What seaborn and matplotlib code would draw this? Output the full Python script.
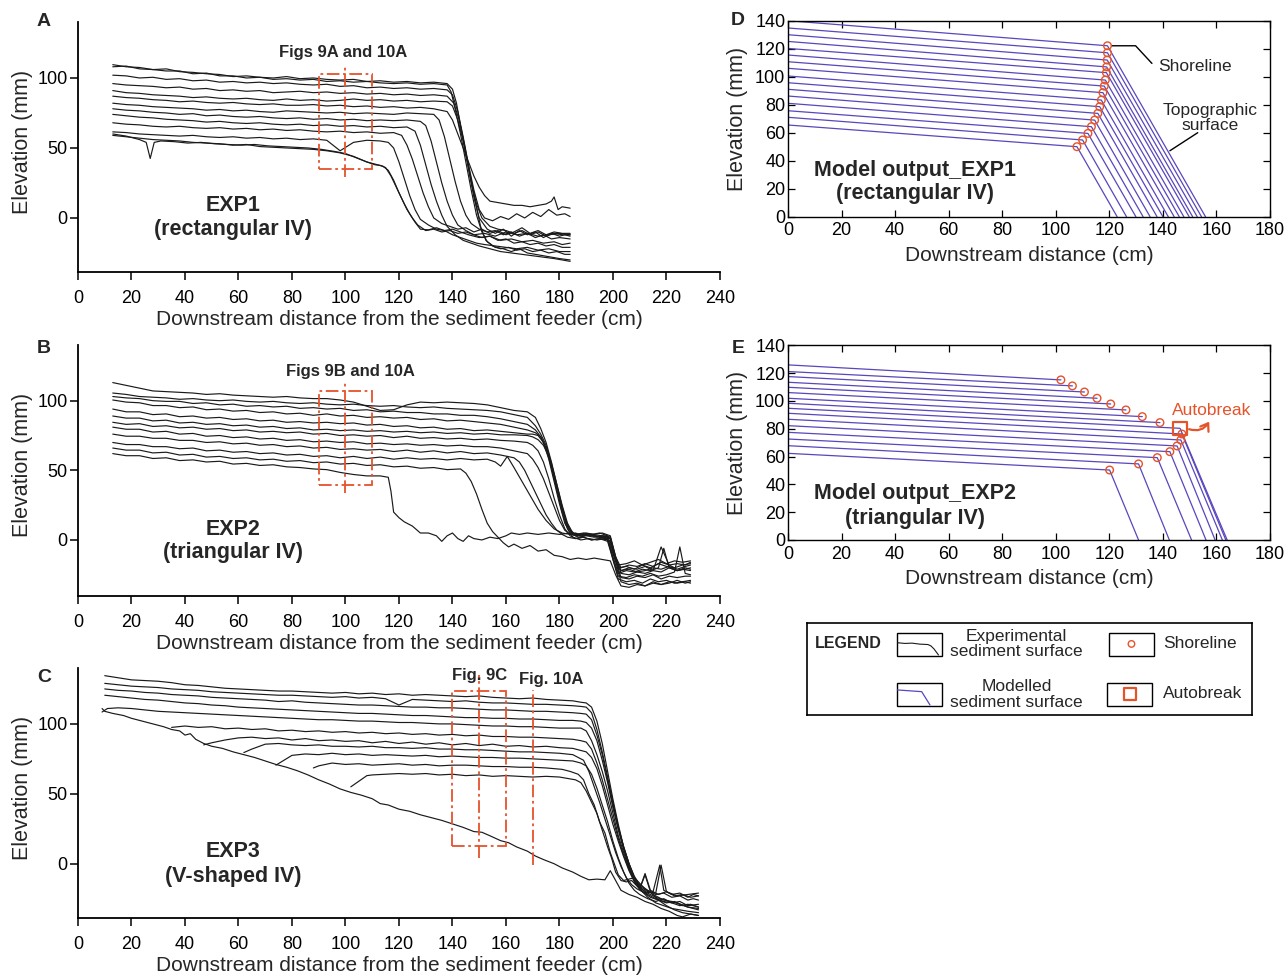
import numpy as np
import pandas as pd
import matplotlib
matplotlib.use("Agg")
import matplotlib.pyplot as plt
import seaborn as sns
from matplotlib.patches import Rectangle, FancyArrowPatch

# ------------------------------------------------------------------ DATA
# ---- Panel A (EXP1, rectangular IV): plateau values on grid gA + tail
gA = [13, 18, 23, 28, 33, 38, 43, 48, 53, 58, 63, 68, 73, 78, 83, 88, 93, 98, 103, 108, 113, 118, 123, 128, 133, 138]

a1_py = [109.5, 108, 107.5, 106, 106.5, 104.5, 104, 103, 102.5, 101, 101.5, 100.5, 100, 101, 99.5, 100, 99, 98.5, 99, 97.5, 98, 97, 97.5, 96.5, 97, 96]
a1_tx = [140, 141.5, 143, 145, 147, 149, 151, 154, 157, 160, 163, 166, 169, 172, 175, 178, 181, 184]
a1_ty = [92, 82, 66, 46, 26, 10, 0, -6, -8, -9, -11, -9, -12, -10, -13, -11, -12, -12]

a2_py = [108, 108.5, 106.5, 106, 105, 105, 103, 103.5, 101.5, 101.5, 100, 100.5, 99, 99.5, 98.5, 99, 97.5, 98, 97, 97.5, 96.5, 96, 96.5, 95.5, 96, 95]
a2_tx = [139.5, 141, 143, 145, 147, 149, 151, 153, 156, 159, 162, 165, 168, 171, 174, 177, 180, 184]
a2_ty = [90, 78, 60, 40, 20, 2, -10, -17, -21, -22, -24, -22, -25, -26, -27, -28, -29, -30]

a3_py = [102, 101.5, 100, 100.5, 99, 99.5, 98, 98.5, 97, 97.5, 96.5, 97, 96, 96.5, 95.5, 95, 95.5, 94, 94.5, 93, 93.5, 92.5, 93, 92, 92.5, 91.5]
a3_tx = [140, 142, 144, 146, 148, 150, 152, 155, 158, 161, 164, 167, 170, 173, 176, 179, 182, 184]
a3_ty = [88, 76, 58, 38, 20, 6, 0, -2, 1, -1, 3, 0, 4, 1, 6, 2, 3, 1]

a4_py = [96, 95, 94.5, 94, 93, 93.5, 92, 92.5, 91, 91.5, 90.5, 91, 89.5, 90, 90.5, 89.5, 90, 89, 89.5, 88.5, 89, 88, 88.5, 87.5, 88, 87]
a4_tx = [140.5, 142.5, 144.5, 146.5, 148.5, 150.5, 152.5, 155, 158, 161, 164, 167, 170, 173, 176, 179, 182, 184]
a4_ty = [82, 70, 52, 32, 12, -6, -16, -20, -22, -21, -23, -22, -24, -23, -25, -24, -26, -26]

a5_py = [91, 89.5, 89, 88, 87.5, 87, 86, 86.5, 85.5, 85, 85.5, 84.5, 84, 85, 84, 84.5, 83.5, 84, 85, 84, 84.5, 83.5, 84, 83, 83.5, 83]
a5_tx = [140, 142, 144, 146, 148, 150, 153, 156, 159, 162, 165, 168, 171, 174, 177, 180, 182, 184]
a5_ty = [80, 70, 55, 35, 15, 0, -8, -11, -8, -13, -9, -12, -10, -14, -11, -13, -12, -13]

a6_py = [87, 86, 85.5, 84.5, 84, 83, 83.5, 82.5, 82, 82.5, 81.5, 81, 81.5, 80.5, 80.5, 81, 80, 80.5, 79.5, 80, 79, 79.5, 78.5, 79, 78, 76]
a6_tx = [140, 142, 144, 146, 148, 150, 152, 154, 157, 160, 163, 166, 169, 172, 175, 177, 178, 179.5, 181, 184]
a6_ty = [70, 60, 50, 40, 30, 22, 16, 12, 11, 10, 9, 9, 8, 9, 10, 12, 15, 6, 8, 7]

a7_py = [82, 81, 80.5, 79.5, 79, 78.5, 78, 77, 77.5, 76.5, 77, 76, 75.5, 76.5, 76, 75.5, 75, 75.5, 74.5, 75, 74.5, 74, 75, 74.5, 74]
a7_tx = [135, 137, 139, 141, 143, 145, 147, 150, 153, 156, 159, 162, 165, 168, 171, 174, 177, 180, 184]
a7_ty = [70, 58, 42, 26, 12, 2, -4, -8, -10, -9, -12, -10, -13, -11, -14, -12, -15, -14, -15]

a8_py = [78, 77, 76.5, 75.5, 75, 74, 74.5, 73, 73.5, 72.5, 72, 72.5, 71.5, 71, 71.5, 70.5, 71, 70, 70.5, 69.5, 70, 69.5, 70, 69]
a8_tx = [130, 132, 134, 136, 138, 140, 142, 145, 148, 151, 154, 157, 160, 163, 166, 169, 172, 175, 178, 181, 184]
a8_ty = [66, 55, 40, 25, 12, 2, -5, -9, -12, -14, -13, -16, -15, -18, -17, -19, -18, -20, -19, -21, -21]

a9_py = [74, 73, 72, 71.5, 70.5, 70, 69.5, 68.5, 69, 68, 67.5, 68, 67, 66.5, 67, 66, 66.5, 65.5, 66, 65, 65.5, 64.5, 65]
a9_tx = [126, 128, 130, 132, 134, 136, 138, 141, 144, 147, 150, 154, 158, 162, 166, 170, 174, 178, 181, 184]
a9_ty = [62, 52, 38, 24, 12, 2, -6, -12, -16, -18, -20, -22, -24, -25, -26, -27, -28, -29, -30, -31]

a10_py = [68, 67, 66.5, 65.5, 65, 65.5, 64.5, 64, 64.5, 63.5, 64, 63, 63.5, 62.5, 63, 62, 61.5, 62, 61, 61.5, 60.5, 61]
a10_tx = [121, 123, 125, 127, 129, 131, 133, 136, 139, 142, 145, 148, 151, 154, 157, 160, 163, 166, 169, 172, 175, 178, 181, 184]
a10_ty = [59, 52, 42, 30, 18, 8, 0, -4, -6, -8, -7, -10, -8, -11, -9, -12, -10, -7, -11, -9, -12, -10, -11, -11]

a11_py = [61.5, 61, 60, 59.5, 59, 58.5, 59, 58, 57.5, 58, 57, 57.5, 56.5, 57, 56, 56.5, 55.5, 48, 54, 55.5, 55]
a11_tx = [116, 118, 120, 122, 124, 126, 128, 131, 134, 137, 140, 143, 146, 149, 152, 156, 160, 164, 168, 172, 176, 180, 184]
a11_ty = [54, 50, 40, 28, 16, 6, -1, -5, -8, -9, -12, -14, -16, -18, -19, -20, -21, -22, -21, -23, -22, -24, -24]

a12_x = [13, 18, 23, 25.5, 27, 28.5, 31, 36, 41, 46, 51, 56, 61, 66, 71, 76, 81, 86, 91, 96, 100, 104, 108, 112,
         114, 116, 118, 120, 122, 124, 126, 128, 131, 134, 137, 140, 143, 146, 150, 154, 158, 162, 166, 170, 174, 178, 181, 184]
a12_y = [60, 58.5, 56, 54, 42.5, 54, 55, 54.5, 53.5, 54, 53, 52.5, 52, 52.5, 51.5, 51, 50.5, 50, 49, 47.5, 46, 43, 40, 38,
         37, 34, 27, 18, 10, 3, -3, -8, -8.5, -7, -9, -8, -10, -12, -14, -13, -16, -15, -17, -16, -18, -17, -19, -18]

a13_x = [13, 18, 23, 28, 33, 38, 43, 48, 53, 58, 63, 68, 73, 78, 83, 88, 93, 98, 103, 108, 111, 113, 115, 117, 119,
         121, 123, 125, 127, 130, 133, 136, 139, 142, 145, 148, 152, 156, 160, 164, 168, 172, 176, 180, 184]
a13_y = [59, 58, 57, 56, 55.5, 55, 54, 53.5, 53, 52, 52.5, 51, 50.5, 50, 49.5, 49, 48, 46.5, 44, 40, 38, 37.5, 36, 30, 22,
         14, 6, 0, -5, -9, -8, -10, -9, -11, -10, -12, -11, -13, -10, -12, -11, -13, -12, -11, -12]

# ---- Panel B (EXP2, triangular IV)
gB = [13, 18, 23, 28, 33, 38, 43, 48, 53, 58, 63, 68, 73, 78, 83, 88, 93, 98, 103, 108, 113, 118, 123, 128, 133, 138, 143, 148, 153, 158, 163, 168]
tB1 = [171, 173, 175, 177, 179, 181, 183, 185, 187, 190, 193, 196, 199, 201, 203, 206, 209, 212, 215, 218, 221, 224, 227, 229]
tB2 = [171, 173, 175, 177, 179, 181, 183, 185, 188, 191, 194, 197, 199, 201, 203, 206, 209, 212, 215, 218, 221, 224, 227, 229]
tB3 = [170, 172, 174, 176, 178, 180, 182, 184, 186, 189, 192, 195, 198, 200, 202, 205, 208, 211, 214, 217, 220, 223, 226, 229]

b1_py = [113, 111, 109, 107, 106.5, 106, 105.5, 104.5, 105, 104, 103.5, 103, 102.5, 103, 102, 101.5, 101.5, 100.5, 99, 96, 93, 93.5, 97, 99, 98.5, 99, 98.5, 98, 97, 95, 93, 92]
b1_ty = [88, 80, 70, 56, 40, 25, 12, 5, 4, 5, 4, 5, 3, -12, -24, -25, -23, -24, -22, -23, -20, -22, -21, -20]
b2_py = [105.5, 104.5, 103, 102.5, 102, 101, 101.5, 100.5, 100, 100.5, 99.5, 99, 99.5, 98.5, 98, 98.5, 97.5, 97, 97.5, 96.5, 96, 96.5, 95.5, 95, 95.5, 94.5, 94, 93.5, 93, 92, 90, 88]
b2_ty = [82, 76, 68, 55, 40, 24, 10, 4, 2, 3, 2, 3, 1, -14, -27, -28, -26, -27, -25, -28, -26, -27, -26, -26]
b3_py = [103, 102, 101.5, 100, 99.5, 99.5, 98, 98.5, 97, 97.5, 96, 96.5, 95.5, 96, 94.5, 95, 94, 94.5, 93, 93.5, 92, 92.5, 91.5, 91.5, 90.5, 90.5, 89.5, 89.5, 88.5, 87, 85, 83]
b3_ty = [79, 74, 66, 52, 36, 20, 8, 2, 0, 1, 0, 1, -1, -15, -30, -32, -31, -33, -30, -32, -31, -29, -31, -30]
b4_py = [100.5, 99, 98.5, 96.5, 96.5, 95, 95.5, 93.5, 94, 92.5, 93, 91.5, 92, 90.5, 91, 89.5, 90.5, 89, 89.5, 88, 88.5, 87.5, 88, 86.5, 87, 85.5, 86, 85, 84, 83, 81, 79]
b4_ty = [77, 74, 66, 54, 38, 22, 10, 4, 3, 4, 2, 3, 2, -13, -22, -20, -21, -19, -22, -5, -18, -21, -19, -18]
b5_py = [94, 92, 92, 90, 90.5, 88.5, 89, 87.5, 88, 86.5, 87, 85.5, 86, 84.5, 85, 84, 84.5, 83.5, 84, 82.5, 83, 81.5, 82, 80.5, 81, 79.5, 80, 78.5, 79, 78, 77, 76]
b5_ty = [76, 75, 70, 58, 42, 26, 12, 5, 3, 4, 3, 2, 1, -10, -20, -19, -21, -18, -20, -17, -19, -20, -18, -17]
b6_py = [89, 87.5, 87.5, 85.5, 86, 84, 84.5, 83, 83.5, 82, 82.5, 81, 81.5, 80, 80.5, 79, 79.5, 78.5, 79, 78, 78.5, 77.5, 78, 77, 77.5, 76.5, 77, 76, 76.5, 75.5, 75.5, 75]
b6_ty = [74, 72, 68, 60, 46, 30, 16, 7, 4, 5, 4, 5, 3, -8, -18, -17, -15, -18, -16, -14, -17, -15, -16, -15]
b7_py = [84.5, 83, 83.5, 81.5, 82, 80.5, 81, 79.5, 80, 78.5, 79, 77.5, 78, 77, 77.5, 76, 76.5, 75, 75.5, 74.5, 75, 73.5, 74.5, 73, 73.5, 72.5, 73, 72, 72.5, 71.5, 71, 70]
b7_tx = [170, 172, 174, 176, 178, 180, 182, 184, 186, 189, 192, 195, 198, 200, 202, 205, 208, 211, 214, 217, 219, 221, 224, 226, 229]
b7_ty = [68, 64, 56, 44, 30, 18, 8, 3, 1, 2, 0, 1, 0, -12, -24, -22, -23, -21, -22, -20, -6, -20, -22, -21, -22]
b8_py = [81, 79.5, 79.5, 77.5, 78, 76, 76.5, 74.5, 75, 73.5, 74, 72.5, 73, 71.5, 72, 70.5, 71, 70, 70.5, 69, 69.5, 68.5, 69, 68, 68.5, 67.5, 68, 67, 67, 66, 64, 62]
b8_tx = [170, 172, 174, 176, 178, 180, 182, 184, 186, 189, 192, 195, 198, 200, 202, 205, 208, 211, 214, 217, 220, 223, 225, 227, 229]
b8_ty = [58, 52, 44, 34, 24, 14, 7, 4, 5, 3, 4, 2, 1, -14, -26, -27, -25, -26, -24, -26, -25, -23, -5, -24, -25]
b9_py = [76, 74.5, 74.5, 73, 73, 71.5, 71.5, 70, 70.5, 69, 69.5, 68, 68.5, 67, 67.5, 66, 66.5, 65, 65.5, 64.5, 65, 63.5, 64.5, 63, 64, 62.5, 63.5, 62, 62.5, 61, 59]
b9_tx = [165, 167, 169, 171, 173, 175, 177, 179, 181, 183, 186, 189, 192, 195, 198, 200, 202, 205, 208, 211, 214, 217, 220, 223, 226, 229]
b9_ty = [56, 50, 42, 34, 26, 18, 12, 7, 4, 2, 1, 2, 0, 1, -1, -14, -28, -30, -29, -31, -28, -30, -29, -31, -30, -29]
b10_py = [70, 68.5, 68.5, 67, 67, 65.5, 66, 64, 64.5, 63, 63.5, 62, 62.5, 61, 61.5, 60, 60.5, 59, 60, 58.5, 59.5, 58, 59, 58, 58.5, 57.5, 58.5, 57.5, 58]
b10_tx = [156, 158, 160.5, 163, 166, 169, 172, 175, 178, 181, 184, 187, 190, 193, 196, 199, 201, 203, 206, 209, 212, 215, 218, 221, 224, 227, 229]
b10_ty = [56, 53, 60, 52, 42, 32, 22, 14, 8, 5, 4, 3, 4, 3, 2, 1, -15, -22, -21, -23, -22, -20, -21, -19, -22, -20, -21]
b11_py = [66, 64.5, 64.5, 62.5, 63, 61, 61.5, 59.5, 60, 58.5, 59, 57.5, 58, 56.5, 57, 55.5, 56, 54.5, 55, 53.5, 54, 52.5, 53, 51.5, 52, 50.5, 51]
b11_tx = [145, 147, 149, 151, 153, 155, 157, 159, 161, 163, 166, 169, 172, 175, 178, 181, 184, 187, 190, 193, 196, 199, 201, 203, 206, 209, 212, 215, 218, 221, 224, 227, 229]
b11_ty = [48, 42, 33, 22, 12, 6, 2, -2, -5, -3, -6, -4, -8, -7, -11, -12, -14, -13, -14, -13, -14, -15, -25, -33, -34, -32, -33, -31, -32, -30, -31, -30, -31]
b12_py = [62, 60.5, 60.5, 58.5, 59, 57, 57.5, 56, 56.5, 54.5, 55, 53.5, 54, 52.5, 52, 51, 50.5, 48.5, 47, 46, 46]
b12_tx = [116, 117, 118, 120, 122, 125, 128, 131, 134, 136, 138, 140, 142, 144, 146, 148, 151, 154, 157, 160, 162, 165, 168, 172,
          176, 180, 184, 188, 192, 196, 199, 201, 203, 206, 209, 212, 215, 218, 221, 224, 227, 229]
b12_ty = [45, 35, 20, 16, 13, 10, 5, 5, 3, -1, 3, 5, 1, -1, 3, 1, 0, 2, 1, 3, 5, 4, 5, 4,
          5, 4, 5, 3, 4, 3, 2, -12, -20, -18, -19, -17, -19, -16, -18, -17, -18, -16]

# ---- Panel C (EXP3, V-shaped IV)
gC = [10, 15, 20, 25, 30, 35, 40, 45, 50, 55, 60, 65, 70, 75, 80, 85, 90, 95, 100, 105, 110, 115, 120, 125, 130, 135, 140, 145, 150, 155, 160, 165, 170, 175, 180, 185]
c1_py = [134.5, 133, 131.5, 131, 130.5, 129.5, 128, 127.5, 126.5, 125.5, 125, 124.5, 124, 123.5, 123.5, 123, 122.5, 122, 122.5, 121.5, 122, 121, 121.5, 120.5, 121, 120.5, 120, 119.5, 120, 119, 118.5, 118, 118.5, 117.5, 117, 116.5]
c1_tx = [188, 190, 192, 194, 196, 198, 200, 202, 204, 206, 208, 210, 213, 216, 219, 222, 225, 228, 230, 232]
c1_ty = [115.5, 115, 112, 102, 86, 66, 46, 28, 12, 0, -9, -15, -19, -22, -21, -24, -23, -26, -25, -26]
c2_py = [129, 128, 127, 126.5, 126, 125, 124.5, 124, 123, 122.5, 122, 121.5, 121, 120.5, 120.5, 120, 119.5, 119, 119.5, 118.5, 119, 118, 113.5, 117.5, 117, 116.5, 116, 116.5, 115.5, 115, 115, 114.5, 114, 114, 113.5, 113]
c2_tx = [188, 190, 192, 194, 196, 198, 200, 202, 204, 206, 208, 210, 213, 216, 218, 220, 223, 226, 229, 232]
c2_ty = [112.5, 112, 108, 96, 80, 62, 44, 26, 12, 0, -10, -16, -20, -21, -1, -20, -23, -22, -24, -23]
c3_py = [125, 124, 123.5, 122.5, 122, 121, 120.5, 120, 119, 118.5, 118, 117.5, 117, 116, 116.5, 115.5, 115, 114.5, 114, 113.5, 113.5, 113, 112.5, 112, 112, 111.5, 111.5, 111, 110.5, 110, 110, 109.5, 109, 109, 108.5, 108]
c3_tx = [188, 190, 192, 194, 196, 198, 200, 202, 204, 206, 208, 210, 213, 216, 219, 222, 225, 228, 232]
c3_ty = [107.5, 107, 103, 92, 78, 60, 42, 26, 12, 0, -10, -17, -22, -25, -27, -28, -30, -29, -31]
c4_py = [120.5, 119.5, 118.5, 117.5, 117, 116, 115, 114.5, 113.5, 113, 112, 111.5, 111, 110.5, 110, 109.5, 109, 108.5, 108, 107.5, 107.5, 107, 106.5, 106, 106, 105.5, 105, 104.5, 104.5, 104, 104, 103.5, 103.5, 103, 102.5, 102.5]
c4_ty = [102, 101, 97, 88, 74, 58, 40, 24, 10, -2, -12, -18, -24, -28, -30, -32, -33, -34, -35]
c5_x = [9, 11, 15, 20, 25, 30, 35, 40, 45, 50, 55, 60, 65, 70, 75, 80, 85, 90, 95, 100, 105, 110, 115, 120, 125, 130, 135, 140, 145, 150, 155, 160, 165, 170, 175, 180, 185]
c5_y = [108.5, 111, 111.5, 111, 110, 109, 108.5, 108, 107.5, 107, 106.5, 106, 105.5, 105, 104.5, 104, 103.5, 103, 103, 102.5, 102, 102, 101.5, 101, 101, 100.5, 100, 100, 99.5, 99, 98.5, 98.5, 98, 98, 97.5, 97, 97]
c5_tx = [188, 190, 192, 194, 196, 198, 200, 202, 204, 206, 208, 210, 212, 214, 217, 220, 223, 226, 229, 232]
c5_ty = [97, 95, 88, 78, 66, 52, 36, 20, 8, -3, -12, -18, -8, -20, -26, -30, -33, -35, -36, -37]
c6_py = [97.5, 98.5, 97.5, 98, 96.5, 97, 96, 96.5, 95, 95.5, 94.5, 95, 94, 94.5, 93.5, 94, 93, 93.5, 92.5, 93, 92, 92.5, 91.5, 92, 91, 91, 90.5, 90.5, 90, 89.5, 89]
c6_ty = [88, 87, 82, 72, 60, 46, 32, 18, 6, -4, -12, -17, -21, -24, -26, -27, -29, -31, -32]
c7_py = [85, 86.5, 88.5, 90, 90.5, 89.5, 90, 88.5, 89.5, 88, 88.5, 87.5, 88, 86.5, 87.5, 86, 87, 85.5, 86.5, 85, 86, 84.5, 85.5, 84, 84.5, 83.5, 84, 83, 82.5]
c7_tx = [188, 190, 192, 194, 196, 198, 200, 202, 204, 206, 208, 210, 212, 214, 217, 220, 224, 228, 232]
c7_ty = [81, 80, 76, 68, 56, 42, 28, 16, 5, -5, -13, -18, -7, -19, -22, -20, -23, -22, -21]
c8_py = [79.5, 82, 85.5, 86, 85, 84.5, 85, 84, 84, 83.5, 84, 83, 83, 82.5, 83, 82, 82, 81.5, 81.5, 81, 80.5, 80, 80, 79.5, 79, 78]
c8_tx = [187, 189, 191, 193, 195, 197, 199, 201, 203, 205, 207, 209, 212, 215, 217.5, 219, 222, 225, 228, 230, 232]
c8_ty = [76, 74, 66, 55, 44, 32, 20, 8, -2, -10, -15, -18, -21, -20, -1, -19, -22, -21, -24, -22, -23]
c9_py = [70.5, 74, 77.5, 78.5, 78, 79, 78, 78.5, 77.5, 78, 77.5, 77, 77.5, 76.5, 77, 76.5, 76, 76, 75.5, 75.5, 75, 74.5, 74, 73.5]
c9_ty = [72, 70, 64, 54, 42, 30, 16, 4, -6, -14, -19, -22, -25, -27, -25, -28, -27, -30, -29]
c10_py = [68.5, 70, 72, 71, 71.5, 70.5, 71, 71.5, 70.5, 71, 70, 70.5, 70.5, 70, 69.5, 69.5, 69, 69, 68.5]
c10_tx = [178, 181, 184, 187, 189, 191, 193, 195, 197, 199, 200.5, 202, 204, 206, 208, 210, 212, 215, 218, 221, 224, 228, 232]
c10_ty = [68, 67.5, 66, 64, 60, 50, 42, 30, 22, 8, 0, -8, -12, -11, -10, -14, -18, -22, -25, -27, -28, -31, -33]
c11_py = [55, 59, 63, 63.5, 64, 64.5, 64, 64.5, 63.5, 64, 63, 63.5, 62.5, 63, 62.5, 62, 62.5, 62]
c11_tx = [183, 186, 188, 190, 192, 194, 196, 198, 199.5, 201, 203, 205, 207, 209, 211, 214, 217, 220, 223, 226, 229, 232]
c11_ty = [61, 60, 58, 52, 44, 36, 24, 12, 4, -6, -12, -13, -12, -16, -20, -24, -26, -28, -27, -30, -29, -31]
c12_x = [9, 10, 13, 17, 20, 24, 28, 32, 35, 38, 40, 42, 44, 47, 50, 54, 58, 62, 66, 70, 74, 78, 82, 86, 90, 94, 98, 102, 106, 110,
         113, 116, 120, 124, 128, 132, 136, 140, 144, 148, 151, 154, 158, 161, 164, 168, 171, 174, 178, 181, 185, 188, 191, 194,
         197, 199, 201, 203, 206, 209, 212, 215, 218, 221, 224, 226, 229, 232]
c12_y = [111, 109, 107.5, 106, 104, 102, 100, 98, 96, 95, 92, 93, 89, 86, 84, 82.5, 80, 78, 76, 73.5, 71, 69, 66.5, 63.5, 60, 57, 53.5, 51, 49, 46.5,
         43, 42, 39, 37.5, 35, 33, 31, 28.5, 26, 23, 22.5, 20, 16.5, 15, 12, 9, 5.5, 3, 0, -3, -6, -9, -11.5, -11,
         -11.5, -5, -12, -19, -22, -24, -27, -29, -32, -34, -37, -38, -36, -37]
tC = [188, 190, 192, 194, 196, 198, 200, 202, 204, 206, 208, 210, 213, 216, 219, 222, 225, 228, 232]

# ---- Panel D (model, EXP1)
d_left_y = [140, 134.8, 130, 125.2, 120.2, 115.5, 110.7, 106, 100.5, 95.7, 91, 86.2, 81, 75.7, 71, 65.5]
d_shore_x = [119.3, 119.3, 119.2, 119.0, 118.9, 118.5, 118.1, 117.6, 117.0, 116.4, 115.7, 114.5, 113.3, 112.0, 110.0, 107.9]
d_shore_y = [122.1, 117.1, 111.9, 107.0, 102.9, 97.6, 93.3, 88.6, 83.3, 78.6, 73.8, 69.0, 64.3, 59.5, 54.8, 50.0]
d_toe_x = [155.9, 154.4, 152.8, 151.1, 149.8, 147.8, 146.1, 144.2, 142.0, 140.0, 137.8, 135.2, 132.6, 129.9, 126.4, 122.9]

# ---- Panel E (model, EXP2)
e_left_y = [125.9, 121.1, 117.5, 113.4, 109.8, 106.0, 101.9, 98.3, 94.7, 91.1, 86.8, 82.2, 77.4, 72.6, 67.8, 62.3]
e_shore_x = [101.9, 106.2, 110.7, 115.4, 120.5, 126.2, 132.3, 138.9, 146.4, 147.1, 146.7, 145.3, 142.6, 137.9, 130.9, 120.1]
e_shore_y = [115.1, 110.8, 106.4, 101.9, 97.8, 93.5, 88.7, 84.4, 80.3, 76.2, 71.9, 67.6, 63.5, 59.2, 54.7, 50.3]
e_toe_x = [None, None, None, None, None, None, None, None, 164.0, 163.5, 162.2, 159.5, 156.1, 150.7, 142.4, 130.9]
e_autobreak = 8  # index of the autobreak point

# ---- reference boxes
boxA = (90, 110, 35, 102.5); lineA = (100, 29, 108)
boxB = (90, 110, 39.5, 106.7); lineB = (100, 33.5, 113.6)
boxC = (140, 160.2, 12.6, 123.2); linesC = [(150, 3.8, 135), (170, -1, 124.3)]

# ------------------------------------------------------------------ STYLE
sns.set_theme(style="ticks")
plt.rcParams["font.family"] = ["Liberation Sans", "DejaVu Sans"]
plt.rcParams["axes.edgecolor"] = "black"
plt.rcParams["xtick.color"] = "black"
plt.rcParams["ytick.color"] = "black"
RED = "#E5532B"
PURPLE = "#5847BD"
INK = "#1a1a1a"


def build(curves):
    rows = []
    for cid, (xs, ys) in enumerate(curves):
        if len(xs) != len(ys):
            raise ValueError(f"curve {cid}: {len(xs)} x vs {len(ys)} y")
        rows += [(cid, x, y) for x, y in zip(xs, ys)]
    return pd.DataFrame(rows, columns=["cid", "x", "y"])


def plateau(grid, py, tx, ty, start=0):
    return (grid[start:start + len(py)] + tx, py + ty)


curvesA = [plateau(gA, a1_py, a1_tx, a1_ty), plateau(gA, a2_py, a2_tx, a2_ty),
           plateau(gA, a3_py, a3_tx, a3_ty), plateau(gA, a4_py, a4_tx, a4_ty),
           plateau(gA, a5_py, a5_tx, a5_ty), plateau(gA, a6_py, a6_tx, a6_ty),
           plateau(gA, a7_py, a7_tx, a7_ty), plateau(gA, a8_py, a8_tx, a8_ty),
           plateau(gA, a9_py, a9_tx, a9_ty), plateau(gA, a10_py, a10_tx, a10_ty),
           plateau(gA, a11_py, a11_tx, a11_ty), (a12_x, a12_y), (a13_x, a13_y)]
curvesB = [plateau(gB, b1_py, tB1, b1_ty), plateau(gB, b2_py, tB1, b2_ty),
           plateau(gB, b3_py, tB2, b3_ty), plateau(gB, b4_py, tB2, b4_ty),
           plateau(gB, b5_py, tB3, b5_ty), plateau(gB, b6_py, tB3, b6_ty),
           plateau(gB, b7_py, b7_tx, b7_ty), plateau(gB, b8_py, b8_tx, b8_ty),
           plateau(gB, b9_py, b9_tx, b9_ty), plateau(gB, b10_py, b10_tx, b10_ty),
           plateau(gB, b11_py, b11_tx, b11_ty), plateau(gB, b12_py, b12_tx, b12_ty)]
curvesC = [plateau(gC, c1_py, c1_tx, c1_ty), plateau(gC, c2_py, c2_tx, c2_ty),
           plateau(gC, c3_py, c3_tx, c3_ty), plateau(gC, c4_py, tC, c4_ty),
           (c5_x + c5_tx, c5_y + c5_ty),
           plateau(gC, c6_py, tC, c6_ty, start=5),
           ([47] + gC[8:] + c7_tx, c7_py + c7_ty),
           ([62] + gC[11:] + c8_tx, c8_py + c8_ty),
           ([74, 77] + gC[14:] + tC, c9_py + c9_ty),
           ([88] + gC[16:34] + c10_tx, c10_py + c10_ty),
           ([102, 105, 108] + gC[20:35] + c11_tx, c11_py + c11_ty),
           (c12_x, c12_y)]


def model_lines(left_y, sx, sy, toe):
    out = []
    for i in range(len(left_y)):
        xs = [0, sx[i]]
        ys = [left_y[i], sy[i]]
        if toe[i] is not None:
            xs.append(toe[i]); ys.append(0)
        out.append((xs, ys))
    return out


# ------------------------------------------------------------------ FIGURE
fig = plt.figure(figsize=(12.87, 9.77), dpi=100)
axA = fig.add_axes([0.0606, 0.7216, 0.4988, 0.2559])
axB = fig.add_axes([0.0606, 0.3903, 0.4988, 0.2566])
axC = fig.add_axes([0.0606, 0.0607, 0.4988, 0.2556])
axD = fig.add_axes([0.6123, 0.7782, 0.3745, 0.2006])
axE = fig.add_axes([0.6123, 0.4473, 0.3745, 0.1993])
axL = fig.add_axes([0.6268, 0.2679, 0.3462, 0.0942])

exp_panels = [
    (axA, curvesA, (-38.6, 140), "EXP1", "(rectangular IV)", (9, -8)),
    (axB, curvesB, (-40, 140), "EXP2", "(triangular IV)", (7.7, -9.1)),
    (axC, curvesC, (-38.6, 140), "EXP3", "(V-shaped IV)", (8.6, -9.3)),
]
for ax, curves, ylim, t1, t2, ty in exp_panels:
    df = build(curves)
    sns.lineplot(data=df, x="x", y="y", units="cid", estimator=None, sort=False,
                 color=INK, lw=0.85, legend=False, ax=ax)
    ax.set_xlim(0, 240)
    ax.set_ylim(*ylim)
    ax.set_xticks(range(0, 241, 20))
    ax.set_yticks([0, 50, 100])
    sns.despine(ax=ax)
    for s in ["left", "bottom"]:
        ax.spines[s].set_linewidth(1.3)
    ax.tick_params(axis="x", direction="out", length=6, width=1.1, labelsize=13, pad=7)
    ax.tick_params(axis="y", direction="out", length=6, width=1.1, labelsize=13, pad=1.5)
    ax.set_xlabel("Downstream distance from the sediment feeder (cm)", fontsize=15)
    ax.set_ylabel("Elevation (mm)", fontsize=15.5)
    ax.xaxis.set_label_coords(0.5, -0.192)
    ax.xaxis.label.set_va("center")
    ax.yaxis.set_label_coords(-0.087, 0.52)
    ax.yaxis.label.set_va("center")
    ax.text(58, ty[0], t1, ha="center", va="center", fontsize=15.5, fontweight="bold")
    ax.text(58, ty[1], t2, ha="center", va="center", fontsize=15.5, fontweight="bold")

# reference boxes / lines
dashdot = (0, (7, 2, 1.5, 2))
for ax, box, vl in [(axA, boxA, [lineA]), (axB, boxB, [lineB]), (axC, boxC, linesC)]:
    x0, x1, y0, y1 = box
    ax.add_patch(Rectangle((x0, y0), x1 - x0, y1 - y0, fill=False, ec=RED, lw=1.3,
                           ls=dashdot, zorder=5))
    for xv, ya, yb in vl:
        ax.vlines(xv, ya, yb, colors=RED, lw=1.3, linestyles=[dashdot], zorder=5)
axA.text(99, 118, "Figs 9A and 10A", ha="center", va="center", fontsize=12, fontweight="bold")
axB.text(102, 121, "Figs 9B and 10A", ha="center", va="center", fontsize=12, fontweight="bold")
axC.text(150, 134.5, "Fig. 9C", ha="center", va="center", fontsize=12, fontweight="bold")
axC.text(177, 131.5, "Fig. 10A", ha="center", va="center", fontsize=12, fontweight="bold")

# model panels
model_panels = [
    (axD, model_lines(d_left_y, d_shore_x, d_shore_y, d_toe_x), d_shore_x, d_shore_y,
     "Model output_EXP1", "(rectangular IV)", (33.3, 16.7)),
    (axE, model_lines(e_left_y, e_shore_x, e_shore_y, e_toe_x),
     [v for i, v in enumerate(e_shore_x) if i != e_autobreak],
     [v for i, v in enumerate(e_shore_y) if i != e_autobreak],
     "Model output_EXP2", "(triangular IV)", (33.6, 15.6)),
]
for ax, lines, mx, my, t1, t2, ty in model_panels:
    df = build(lines)
    sns.lineplot(data=df, x="x", y="y", units="cid", estimator=None, sort=False,
                 color=PURPLE, lw=0.9, legend=False, ax=ax)
    sns.scatterplot(x=mx, y=my, marker="o", s=30, color=RED, facecolor="none",
                    edgecolor=RED, linewidth=1.0, ax=ax, zorder=5)
    ax.set_xlim(0, 180)
    ax.set_ylim(0, 140)
    ax.set_xticks(range(0, 181, 20))
    ax.set_yticks(range(0, 141, 20))
    for s in ax.spines.values():
        s.set_linewidth(1.0)
        s.set_visible(True)
    ax.tick_params(direction="in", top=True, right=True, length=5, width=0.9,
                   labelsize=13, pad=4)
    ax.tick_params(axis="y", pad=2)
    ax.set_xlabel("Downstream distance (cm)", fontsize=15)
    ax.set_ylabel("Elevation (mm)", fontsize=15.5)
    ax.xaxis.set_label_coords(0.5, -0.2)
    ax.xaxis.label.set_va("center")
    ax.yaxis.set_label_coords(-0.104, 0.5)
    ax.yaxis.label.set_va("center")
    ax.text(47.3, ty[0], t1, ha="center", va="center", fontsize=15.5, fontweight="bold")
    ax.text(47.3, ty[1], t2, ha="center", va="center", fontsize=15.5, fontweight="bold")

# D annotations
axD.plot([120.8, 129.8, 135.9], [122.1, 122.1, 109.5], color="black", lw=1.0)
axD.text(138.3, 107.5, "Shoreline", ha="left", va="center", fontsize=12.5)
axD.plot([142.6, 153.0], [47.1, 60.0], color="black", lw=1.0)
axD.text(157.5, 70.5, "Topographic\nsurface", ha="center", va="center", fontsize=12.5,
         linespacing=1.0)

# E autobreak
sns.scatterplot(x=[e_shore_x[e_autobreak]], y=[e_shore_y[e_autobreak]], marker="s", s=95,
                color=RED, facecolor="none", edgecolor=RED, linewidth=1.6, ax=axE, zorder=6)
axE.text(143.3, 93.0, "Autobreak", color=RED, ha="left", va="center", fontsize=12.5)
axE.add_patch(FancyArrowPatch((148.8, 80.3), (157.8, 86.8), connectionstyle="arc3,rad=0.45",
                              arrowstyle="->,head_length=5,head_width=3.5", color=RED,
                              lw=1.6, mutation_scale=1, zorder=6))

# panel letters
for lbl, (x, y) in {"A": (0.0342, 0.9775), "B": (0.0342, 0.6438), "C": (0.0342, 0.307),
                    "D": (0.5734, 0.9795), "E": (0.5734, 0.6438)}.items():
    fig.text(x, y, lbl, ha="center", va="center", fontsize=14, fontweight="bold")

# legend panel (pixel coordinate frame)
axL.set_xlim(806.7, 1252.3)
axL.set_ylim(715.3, 623.3)
axL.set_xticks([]); axL.set_yticks([])
for s in axL.spines.values():
    s.set_visible(True); s.set_linewidth(1.2); s.set_color("black")
axL.set_facecolor("white")
axL.text(815, 644, "LEGEND", fontsize=11.5, fontweight="bold", ha="left", va="center")
for (x0, y0, x1, y1) in [(896.7, 632.7, 941.7, 655.7), (896.7, 682.7, 941.7, 705.7),
                         (1109, 632.7, 1154, 655.7), (1107.3, 682.7, 1152.3, 705.7)]:
    axL.add_patch(Rectangle((x0, y0), x1 - x0, y1 - y0, fill=False, ec="black", lw=1.0))
axL.plot([897.5, 905, 912, 920, 928, 931, 934, 938.5],
         [642.8, 643.5, 643.2, 644.2, 644.6, 646, 649, 655], color=INK, lw=0.8)
axL.plot([897.5, 921.7, 930], [690, 691.7, 705], color=PURPLE, lw=0.9)
axL.scatter([1131.5], [644], s=22, facecolor="none", edgecolor=RED, linewidth=1.0)
axL.scatter([1130], [694.2], s=80, marker="s", facecolor="none", edgecolor=RED, linewidth=1.6)
axL.text(1016.7, 644, "Experimental\nsediment surface", ha="center", va="center",
         fontsize=12.5, linespacing=1.05)
axL.text(1016.7, 694.5, "Modelled\nsediment surface", ha="center", va="center",
         fontsize=12.5, linespacing=1.05)
axL.text(1163.3, 644, "Shoreline", ha="left", va="center", fontsize=12.5)
axL.text(1162.7, 694, "Autobreak", ha="left", va="center", fontsize=12.5)

fig.savefig("out.png", dpi=100)
